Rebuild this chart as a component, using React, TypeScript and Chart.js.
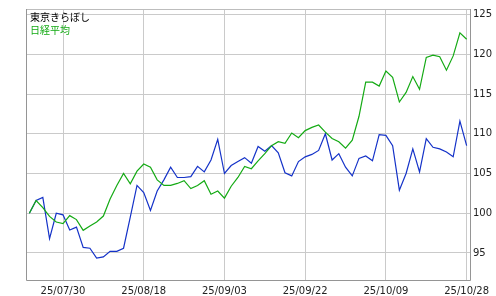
import React, { useEffect, useRef } from "react";
import { Chart, registerables } from "chart.js";

Chart.register(...registerables);

const dates = [
  "25/07/23", "25/07/24", "25/07/25", "25/07/28", "25/07/29", "25/07/30", "25/07/31",
  "25/08/01", "25/08/04", "25/08/05", "25/08/06", "25/08/07", "25/08/08",
  "25/08/12", "25/08/13", "25/08/14", "25/08/15", "25/08/18", "25/08/19", "25/08/20",
  "25/08/21", "25/08/22", "25/08/25", "25/08/26", "25/08/27", "25/08/28", "25/08/29",
  "25/09/01", "25/09/02", "25/09/03", "25/09/04", "25/09/05", "25/09/08", "25/09/09",
  "25/09/10", "25/09/11", "25/09/12", "25/09/16", "25/09/17", "25/09/18", "25/09/19",
  "25/09/22", "25/09/24", "25/09/25", "25/09/26", "25/09/29", "25/09/30",
  "25/10/01", "25/10/02", "25/10/03", "25/10/06", "25/10/07", "25/10/08", "25/10/09",
  "25/10/10", "25/10/14", "25/10/15", "25/10/16", "25/10/17", "25/10/20", "25/10/21",
  "25/10/22", "25/10/23", "25/10/24", "25/10/27", "25/10/28",
];

const tickLabels = ["25/07/30", "25/08/18", "25/09/03", "25/09/22", "25/10/09", "25/10/28"];
const yTicks = [95, 100, 105, 110, 115, 120, 125];

const seriesNames = ["東京きらぼし", "日経平均"];

const kiraboshi = [
  100.0, 101.6, 102.0, 96.8, 100.0, 99.8, 97.9, 98.25, 95.7, 95.6,
  94.35, 94.5, 95.2, 95.2, 95.6, 99.5, 103.5, 102.6, 100.35, 102.8,
  104.2, 105.8, 104.5, 104.5, 104.6, 105.9, 105.2, 106.7, 109.3, 105.0,
  106.0, 106.5, 107.0, 106.3, 108.4, 107.8, 108.5, 107.6, 105.1, 104.7,
  106.5, 107.1, 107.4, 107.9, 110.0, 106.7, 107.5, 105.8, 104.7, 106.9,
  107.2, 106.6, 109.9, 109.8, 108.5, 102.9, 105.0, 108.1, 105.2, 109.4,
  108.3, 108.1, 107.7, 107.1, 111.6, 108.5,
];

const nikkei = [
  100.0, 101.6, 100.7, 99.6, 98.9, 98.7, 99.7, 99.2, 97.85, 98.4,
  98.9, 99.65, 101.8, 103.5, 105.0, 103.7, 105.3, 106.2, 105.8, 104.2,
  103.5, 103.5, 103.75, 104.1, 103.1, 103.5, 104.1, 102.4, 102.8, 101.9,
  103.4, 104.5, 105.9, 105.6, 106.6, 107.5, 108.5, 109.0, 108.8, 110.1,
  109.5, 110.4, 110.8, 111.1, 110.2, 109.4, 109.0, 108.2, 109.2, 112.2,
  116.5, 116.5, 116.0, 117.9, 117.1, 114.0, 115.2, 117.2, 115.6, 119.6,
  119.9, 119.7, 118.0, 119.8, 122.7, 121.9,
];

const BLUE = "#1432c8";
const GREEN = "#14aa14";

const framePlugin = {
  id: "frame",
  afterDraw(chart: any) {
    const { ctx, chartArea } = chart;
    const { left, right, top, bottom } = chartArea;
    ctx.save();
    ctx.lineWidth = 1;
    ctx.strokeStyle = "#bdbdbd";
    ctx.beginPath();
    ctx.moveTo(left, top + 0.5);
    ctx.lineTo(right, top + 0.5);
    ctx.stroke();
    ctx.strokeStyle = "#959595";
    ctx.beginPath();
    ctx.moveTo(left + 0.5, top);
    ctx.lineTo(left + 0.5, bottom + 0.5);
    ctx.lineTo(right + 0.5, bottom + 0.5);
    ctx.lineTo(right + 0.5, top);
    ctx.stroke();
    // legend text
    ctx.font = '10px "Noto Sans CJK JP"';
    ctx.textBaseline = "middle";
    ctx.textAlign = "left";
    ctx.fillStyle = "#000000";
    ctx.fillText(seriesNames[0], left + 4, top + 8.5);
    ctx.fillStyle = GREEN;
    ctx.fillText(seriesNames[1], left + 4, top + 21);
    ctx.restore();
  },
};

export default function App() {
  const ref = useRef<HTMLCanvasElement>(null);
  useEffect(() => {
    if (!ref.current) return;
    const chart = new Chart(ref.current, {
      type: "line",
      data: {
        labels: dates,
        datasets: [
          {
            label: seriesNames[1],
            data: nikkei,
            borderColor: GREEN,
            borderWidth: 1.2,
            pointRadius: 0,
            tension: 0,
            fill: false,
          },
          {
            label: seriesNames[0],
            data: kiraboshi,
            borderColor: BLUE,
            borderWidth: 1.2,
            pointRadius: 0,
            tension: 0,
            fill: false,
          },
        ],
      },
      options: {
        responsive: false,
        animation: false,
        devicePixelRatio: 1,
        layout: { padding: { left: 26, top: 8, right: 0, bottom: 0 } },
        plugins: { legend: { display: false }, tooltip: { enabled: false } },
        scales: {
          x: {
            type: "category",
            offset: true,
            grid: { color: "#cacaca", lineWidth: 1, drawTicks: false, offset: false },
            border: { display: false },
            ticks: {
              autoSkip: false,
              maxRotation: 0,
              padding: 5,
              color: "#222",
              font: { family: "DejaVu Sans", size: 10 },
            },
            afterBuildTicks: (axis: any) => {
              axis.ticks = axis.ticks.filter((t: any) => tickLabels.includes(dates[t.value]));
            },
            afterFit: (axis: any) => {
              axis.height = 16;
            },
          },
          y: {
            position: "right",
            min: 91.6,
            max: 125.7,
            grid: { color: "#cacaca", lineWidth: 1, drawTicks: false },
            border: { display: false },
            ticks: {
              padding: 3,
              color: "#222",
              font: { family: "DejaVu Sans", size: 10 },
            },
            afterBuildTicks: (axis: any) => {
              axis.ticks = yTicks.map((v) => ({ value: v }));
            },
            afterFit: (axis: any) => {
              axis.width = 26;
            },
          },
        },
      },
      plugins: [framePlugin],
    });
    return () => chart.destroy();
  }, []);
  return (
    <div style={{ position: "absolute", left: 0, top: 0, width: 496, height: 296, background: "#fff" }}>
      <canvas ref={ref} width={496} height={296} style={{ display: "block" }} />
    </div>
  );
}
